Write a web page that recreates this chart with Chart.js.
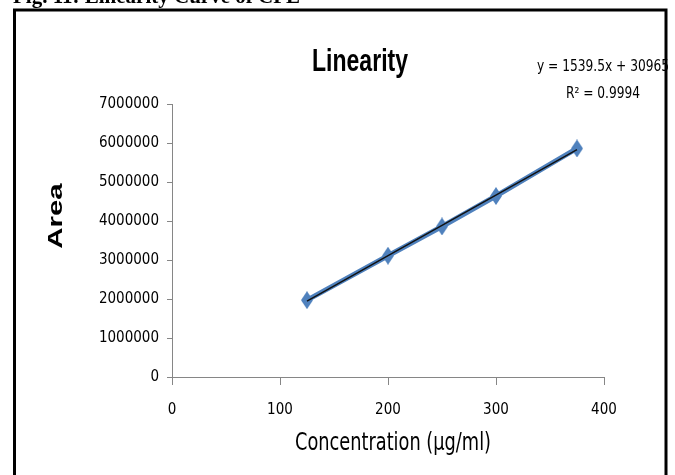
<!DOCTYPE html>
<html>
<head>
<meta charset="utf-8">
<script src="https://cdn.jsdelivr.net/npm/chart.js@4/dist/chart.umd.min.js"></script>
<style>
  html, body { margin: 0; padding: 0; background: #fff; }
  #wrap { position: relative; width: 675px; height: 475px; }
</style>
</head>
<body>
<div id="wrap"><canvas id="linearityChart" width="675" height="475"></canvas></div>
<script>
// 농도별 면적 데이터
const concentration = [125, 200, 250, 300, 375];
const area = [1970000, 3110000, 3860000, 4640000, 5860000];
const equationText = ['y = 1539.5x + 30965', 'R² = 0.9994'];

const NARROW = "'Liberation Sans Narrow', 'DejaVu Sans Condensed', 'Liberation Sans', sans-serif";

/**
 * 최소제곱 추세선
 */
function linearFit(xs, ys) {
    const n = xs.length;
    let sx = 0, sy = 0, sxx = 0, sxy = 0;
    for (let i = 0; i < n; i++) {
        sx += xs[i]; sy += ys[i];
        sxx += xs[i] * xs[i]; sxy += xs[i] * ys[i];
    }
    const b = (n * sxy - sx * sy) / (n * sxx - sx * sx);
    const a = (sy - b * sx) / n;
    return { a, b };
}
const fit = linearFit(concentration, area);
const trendX = [concentration[0], concentration[concentration.length - 1]];

// 다이아몬드 마커
const diamond = document.createElement('canvas');
diamond.width = 12; diamond.height = 18;
(function () {
    const c = diamond.getContext('2d');
    c.fillStyle = '#4F81BD';
    c.beginPath();
    c.moveTo(6, 0); c.lineTo(12, 9); c.lineTo(6, 18); c.lineTo(0, 9);
    c.closePath();
    c.fill();
})();

// 가로로 좁힌 글자
function squeezedText(ctx, text, x, y, font, sx) {
    ctx.save();
    ctx.translate(x, y);
    ctx.scale(sx, 1);
    ctx.font = font;
    ctx.fillText(text, 0, 0);
    ctx.restore();
}

// 테두리, 제목, 수식 그리기
const decorPlugin = {
    id: 'decor',
    afterDraw(chart) {
        const ctx = chart.ctx;
        const area = chart.chartArea;
        ctx.save();
        ctx.strokeStyle = '#000';
        ctx.lineWidth = 3;
        ctx.strokeRect(14.5, 10, 651.5, 480);

        ctx.fillStyle = '#000';
        ctx.textAlign = 'left';
        ctx.textBaseline = 'alphabetic';
        ctx.font = "bold 21px 'Liberation Serif', serif";
        ctx.fillText('Fig. 11: Linearity Curve of CPE', 13, 3);

        ctx.textAlign = 'center';
        ctx.textBaseline = 'middle';
        squeezedText(ctx, 'Linearity', 360, 62, "bold 32px 'Liberation Sans', sans-serif", 0.72);
        squeezedText(ctx, equationText[0], 603, 67, '16px ' + NARROW, 0.85);
        squeezedText(ctx, equationText[1], 603, 94, '16px ' + NARROW, 0.85);
        squeezedText(ctx, 'Concentration (µg/ml)', (area.left + area.right) / 2 + 5, 443, '25px ' + NARROW, 0.79);

        ctx.translate(56, 216);
        ctx.rotate(-Math.PI / 2);
        ctx.scale(1.4, 1);
        ctx.font = "bold 21px 'Liberation Sans', Arial, sans-serif";
        ctx.fillText('Area', 0, 0);
        ctx.restore();
    }
};

const chart = new Chart(document.getElementById('linearityChart'), {
    type: 'scatter',
    data: {
        datasets: [{
            label: 'Linear',
            data: trendX.map(x => ({ x: x, y: fit.a + fit.b * x })),
            showLine: true,
            borderColor: '#111',
            borderWidth: 1.5,
            pointRadius: 0,
            pointHoverRadius: 0,
            order: 0
        }, {
            label: 'Area',
            data: concentration.map((x, i) => ({ x: x, y: area[i] })),
            showLine: true,
            borderColor: '#4F81BD',
            borderWidth: 5,
            pointStyle: diamond,
            pointRadius: 9,
            pointHoverRadius: 9,
            order: 1
        }]
    },
    options: {
        responsive: false,
        animation: false,
        layout: { padding: { left: 0, right: 71, top: 104, bottom: 0 } },
        plugins: {
            legend: { display: false },
            tooltip: { enabled: false }
        },
        scales: {
            x: {
                type: 'linear',
                min: 0,
                max: 400,
                afterFit: s => { s.height = 98; },
                ticks: {
                    stepSize: 100,
                    color: '#000',
                    padding: 16,
                    font: { family: NARROW, size: 15 }
                },
                grid: { drawOnChartArea: false, color: '#868686', tickLength: 8 },
                border: { color: '#868686', width: 1 }
            },
            y: {
                min: 0,
                max: 7000000,
                afterFit: s => { s.width = 172; },
                ticks: {
                    stepSize: 1000000,
                    color: '#000',
                    padding: 8,
                    font: { family: NARROW, size: 15 },
                    callback: v => String(v)
                },
                grid: { drawOnChartArea: false, color: '#868686', tickLength: 5 },
                border: { color: '#868686', width: 1 }
            }
        }
    },
    plugins: [decorPlugin]
});
</script>
</body>
</html>
